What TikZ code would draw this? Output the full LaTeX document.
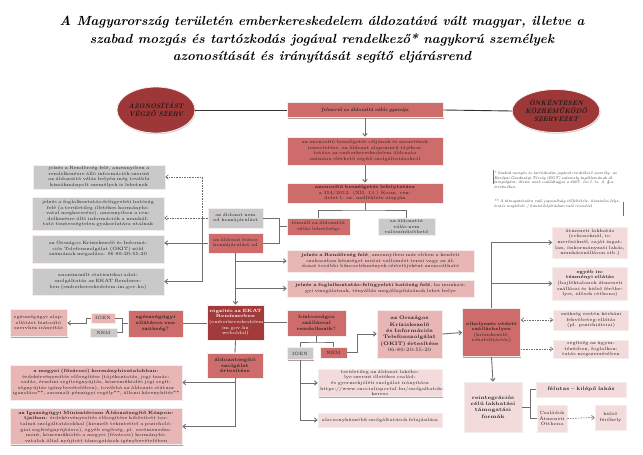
\documentclass[tikz,border=0pt]{standalone}
\usetikzlibrary{shapes.geometric,shadows,arrows.meta}
\definecolor{ellred}{RGB}{158,56,56}
\definecolor{boxred}{RGB}{205,108,106}
\definecolor{darkred}{RGB}{163,58,58}
\definecolor{boxpink}{RGB}{233,182,182}
\definecolor{lightpink}{RGB}{243,219,219}
\definecolor{boxgray}{RGB}{201,201,201}
\definecolor{edgecol}{RGB}{245,236,236}
\definecolor{linegray}{RGB}{110,110,110}
\begin{document}
\begin{tikzpicture}[x=1pt,y=-1pt,
  box/.style={rectangle, draw=edgecol, line width=0.7pt, align=center, inner xsep=2pt, inner ysep=1pt,
    text=black!85, font=\fontsize{4.6}{5.6}\selectfont,
    drop shadow={shadow xshift=0.6pt, shadow yshift=-1.1pt, fill=ellred!60!black, opacity=0.45}},
  sz/.style 2 args={text width=#1pt, minimum height=#2pt},
  redbox/.style={box, fill=boxred},
  pinkbox/.style={box, fill=boxpink},
  lightbox/.style={box, fill=lightpink},
  graybox/.style={box, fill=boxgray},
  darkbox/.style={box, fill=darkred, text=white},
  ellbox/.style={ellipse, fill=ellred, draw=edgecol, line width=0.8pt, align=center, inner sep=0pt,
    font=\fontsize{6.6}{8}\selectfont\bfseries\itshape, text=black!90,
    drop shadow={shadow xshift=0.8pt, shadow yshift=-1.2pt, opacity=0.35}},
  note/.style={align=left, inner sep=1pt, font=\fontsize{3.9}{4.8}\selectfont\itshape, text=black!80},
  conn/.style={draw=linegray, line width=0.9pt},
  arr/.style={conn, -{Straight Barb[length=2.6pt,width=4.4pt]}},
  darr/.style={arr, dashed, dash pattern=on 1.6pt off 1pt, line width=0.6pt}]
  \useasboundingbox (0,0) rectangle (643,455);
  % Title
  \node[align=center, font=\fontsize{13.2}{17.6}\selectfont\bfseries\itshape] (title) at (322,40)
    {A Magyarország területén emberkereskedelem áldozatává vált magyar, illetve a\\
     szabad mozgás és tartózkodás jogával rendelkező* nagykorú személyek\\
     azonosítását és irányítását segítő eljárásrend};
  % Ellipses
  \node[ellbox, minimum width=78pt, minimum height=46pt] (azon) at (156,110) {AZONOSÍTÁST\\VÉGZŐ SZERV};
  \node[ellbox, minimum width=76pt, minimum height=43pt] (onkent) at (556,111) {ÖNKÉNTESEN\\KÖZREMŰKÖDŐ\\SZERVEZET};
  % Main column
  \node[redbox, sz={152}{15}, font=\fontsize{5}{6}\selectfont\bfseries\itshape] (gyanu) at (365,110) {felmerül az áldozattá válás gyanúja};
  \node[redbox, sz={152}{28}] (ismert) at (365,151) {az azonosító beszélgetés céljának és menetének ismertetése, az áldozat alapszintű tájékoztatása az emberkereskedelem áldozata számára elérhető segítő szolgáltatásokról};
  \node[redbox, sz={152}{20}] (beszel) at (365,193) {\textbf{azonosító beszélgetés lefolytatása}\\a 354/2012. (XII. 13.) Korm. rendelet 1. sz. melléklete alapján};
  \node[redbox, sz={59}{17}] (fennall) at (318.5,226.5) {fennáll az áldozattá válás lehetősége};
  \node[graybox, sz={53}{17}] (nemval) at (406.5,226.5) {az áldozattá válás nem valószínűsíthető};
  % Consent
  \node[graybox, sz={51}{20}] (nemad) at (235.5,218) {az áldozat nem ad hozzájárulást};
  \node[redbox, sz={51}{20}] (irasos) at (235.5,243) {az áldozat írásos hozzájárulást ad};
  \node[pinkbox, sz={183}{22}] (jelrend) at (380.5,261) {\textbf{jelzés a Rendőrség felé}, amennyiben már ebben a kezdeti szakaszban készséget mutat vallomást tenni vagy az áldozat további bűncselekmények sértettjeként azonosítható};
  \node[pinkbox, sz={183}{17}] (jelfogl) at (380.5,288.5) {\textbf{jelzés a foglalkoztatás-felügyeleti hatóság felé}, ha munkaügyi vizsgálatnak, tényállás megállapításának lehet helye};
  % Left gray column
  \node[graybox, sz={128}{24}] (g1) at (99,177) {jelzés a Rendőrség felé, amennyiben a rendelkezésre álló információk szerint az áldozattá válás helyén még további kizsákmányolt személyek is lehetnek};
  \node[graybox, sz={128}{33}] (g2) at (98,213.5) {jelzés a foglalkoztatás-felügyeleti hatóság felé (a területileg illetékes kormányhivatal megkeresése), amennyiben a rendelkezésre álló információk a munkáltató tisztességtelen gyakorlatára utalnak};
  \node[graybox, sz={128}{28}] (g3) at (98,249) {az Országos Kríziskezelő és Információs Telefonszolgálat (OKIT) zöld számának megadása: 06 80-20-55-20};
  \node[graybox, sz={128}{27}] (g4) at (98,281.5) {anonimizált statisztikai adat-szolgáltatás az EKAT Rendszerben (emberkereskedelem.im.gov.hu)};
  % Health care
  \node[redbox, sz={51}{27}, font=\fontsize{4.8}{5.8}\selectfont\bfseries] (eu) at (155.5,323.5) {egészségügyi ellátásra van szükség?};
  \node[pinkbox, sz={20}{10}] (igen1) at (103,318) {IGEN};
  \node[graybox, sz={23}{9}] (nem1) at (103.5,332.5) {NEM};
  \node[pinkbox, sz={53}{27}] (alap) at (38.5,323) {egészségügyi alap-ellátást biztosító szervhez irányítás};
  % Registration and shelter
  \node[darkbox, sz={53}{35}] (rogzit) at (235.5,322.5) {\textbf{rögzítés az EKAT Rendszerben}\\(emberkereskedelem.\\im.gov.hu weboldal)};
  \node[redbox, sz={55}{26}, font=\fontsize{4.8}{5.8}\selectfont\bfseries] (szallas) at (316.5,323) {biztonságos szállással rendelkezik?};
  \node[graybox, sz={22}{12}] (igen2) at (300,353.5) {IGEN};
  \node[redbox, sz={23}{11}] (nem2) at (333.5,352.5) {NEM};
  \node[pinkbox, sz={61}{48}, font=\fontsize{5}{6.4}\selectfont] (okit) at (409.5,334) {\textbf{az Országos Kríziskezelő és Információs Telefonszolgálat (OKIT) értesítése}\\06-80-20-55-20};
  \node[lightbox, sz={120}{25}] (csalad) at (380,383) {területileg az áldozat lakóhelye szerint illetékes család- és gyermekjóléti szolgálat irányítása https://www.szocialisportal.hu/szolgaltatok-kereso};
  \node[lightbox, sz={120}{14}] (alacsony) at (380,420) {alacsonyküszöbű szolgáltatások felajánlása};
  % Victim support
  \node[redbox, sz={52}{25}, font=\fontsize{4.8}{5.8}\selectfont\bfseries] (aldseg) at (235,365.5) {áldozatsegítő szolgálat értesítése};
  \node[pinkbox, sz={168}{35}] (megyei) at (96,382.5) {\textbf{a megyei (fővárosi) kormányhivatalokban:} érdekérvényesítés elősegítése (tájékoztatás, jogi tanácsadás, érzelmi segítségnyújtás, közreműködés jogi segítségnyújtás igénybevételében), továbbá az áldozati státusz igazolása**, azonnali pénzügyi segély**, állami kárenyhítés**};
  \node[pinkbox, sz={168}{36}] (igazsag) at (96,426.5) {\textbf{az Igazságügyi Minisztérium Áldozatsegítő Központjaiban:} érdekérvényesítés elősegítése kibővített tartalmú szolgáltatásokkal (kiemelt tekintettel a pszichológiai segítségnyújtásra), egyéb segítség, pl. esetmenedzsment, közreműködés a megyei (fővárosi) kormányhivatalok által nyújtott támogatások igénybevételében};
  % Right column
  \node[redbox, sz={54}{48}] (elhely) at (491.5,332.5) {\textbf{elhelyezés védett szálláshelyen}\\(kríziskezelő, rehabilitációs)};
  \node[lightbox, sz={71}{31}] (lakhat) at (590,242.5) {átmeneti lakhatás (rokonoknál, ismerősöknél, saját ingatlan, önkormányzati lakás, munkásszálláson stb.)};
  \node[lightbox, sz={71}{33}] (intezm) at (590,283.5) {\textbf{egyéb intézményi ellátás}\\(hajléktalanok átmeneti szállásai és külső férőhelyei, idősek otthona)};
  \node[lightbox, sz={71}{20}] (korhaz) at (591,320) {szükség esetén kórházi fekvőbeteg-ellátás (pl. pszichiátriai)};
  \node[lightbox, sz={71}{18}] (segits) at (591,349) {segítség az ügyintézésben, foglalkoztatás megszerzésében};
  \node[lightbox, sz={54}{50}, font=\fontsize{5}{6.4}\selectfont\bfseries] (reint) at (493,407) {reintegrációs célú lakhatási támogatási formák};
  \node[lightbox, sz={86}{15}, font=\fontsize{5}{6}\selectfont\bfseries] (felutas) at (581,389.5) {félutas -- kilépő lakás};
  \node[lightbox, sz={26}{27}] (csao) at (552,418.5) {Családok Átmeneti Otthona};
  \node[lightbox, sz={27}{25}] (kulso) at (610.5,417.5) {külső férőhely};
  % Footnotes
  \node[note, text width=128pt] (fn1) at (558,180) {* Szabad mozgás és tartózkodás jogával rendelkező személy: az Európai Gazdasági Térség (EGT) valamely tagállamának állampolgára, illetve azok családtagjai a 2007. évi I. tv. 2. §-a értelmében.};
  \node[note, text width=128pt] (fn2) at (558,204) {** A támogatásokra való jogosultság előfeltétele: hivatalos feljelentés megtétele / büntetőeljárásban való részvétel};
  \draw[draw=linegray, line width=0.6pt] (fn1.north west) -- ++(0,14);
  \draw[draw=linegray, line width=0.6pt] (fn2.north east) ++(0,4) -- ++(0,14);
  % Connectors, top part
  \draw[draw=black!80, line width=0.9pt] (azon.east) -- (gyanu.west);
  \draw[draw=black!80, line width=0.9pt] (gyanu.east) -- (onkent.west);
  \draw[arr] (gyanu.south) -- (ismert.north);
  \draw[arr] (ismert.south) -- (beszel.north);
  \coordinate (br1) at (365,210);
  \draw[conn] (beszel.south) -- (br1);
  \draw[conn] (fennall.north) |- (br1) -| (nemval.north);
  \coordinate (br2) at (279,226.5);
  \draw[conn] (nemad.east) -| (br2);
  \draw[conn] (irasos.east) -| (br2);
  \draw[conn] (br2) -- (fennall.west);
  % Connectors, left column
  \coordinate (vl1) at (202,218);
  \draw[darr] (nemad.west) -- (nemad.west -| g2.east);
  \draw[darr] (vl1) |- (g1.east);
  \draw[arr] (irasos.west) -- (irasos.west -| g3.east);
  \draw[arr] (vl1) |- (g4.east);
  \draw[arr] (irasos.south) -- (rogzit.north);
  \draw[arr] (irasos.south |- jelrend.west) -- (jelrend.west);
  \draw[arr] (irasos.south |- jelfogl.west) -- (jelfogl.west);
  % Connectors, health care
  \draw[conn] (eu.east) -- (eu.east -| rogzit.west);
  \coordinate (br3) at (122,323.5);
  \draw[conn] (eu.west) -- (br3);
  \draw[conn] (igen1.east) -| (br3);
  \draw[conn] (nem1.east) -| (br3);
  \draw[arr] (igen1.west) -- ++(-4,0) |- (alap.east);
  % Connectors, shelter
  \draw[conn] (rogzit.east) -- (rogzit.east -| szallas.west);
  \coordinate (br4) at (316.5,342);
  \draw[conn] (szallas.south) -- (br4);
  \draw[conn] (igen2.north) |- (br4) -| (nem2.north);
  \draw[arr] (nem2.east) -- ++(10,0) |- (okit.west);
  \draw[arr] (igen2.south) |- (csalad.west);
  \draw[arr] (igen2.south) |- (alacsony.west);
  \draw[arr] (okit.east) -- (elhely.west);
  % Connectors, victim support
  \draw[conn] (rogzit.south) -- (aldseg.north);
  \draw[arr] (aldseg.south) |- (megyei.east);
  \draw[arr] (aldseg.south) |- (igazsag.east);
  % Connectors, right column
  \draw[arr] (elhely.north) |- (lakhat.west);
  \draw[arr] (elhely.north) |- (intezm.west);
  \draw[darr, {Straight Barb[length=2.6pt,width=4.4pt]}-{Straight Barb[length=2.6pt,width=4.4pt]}] (elhely.east |- korhaz.west) -- (korhaz.west);
  \draw[darr] (elhely.east |- segits.west) -- (segits.west);
  \draw[arr] (elhely.south) -- (reint.north);
  \coordinate (br5) at (530,407);
  \draw[conn] (reint.east) -- (br5);
  \draw[conn] (felutas.west) -| (br5);
  \draw[conn] (csao.west) -| (br5);
  \draw[darr] (csao.east) -- (kulso.west);
\end{tikzpicture}
\end{document}
